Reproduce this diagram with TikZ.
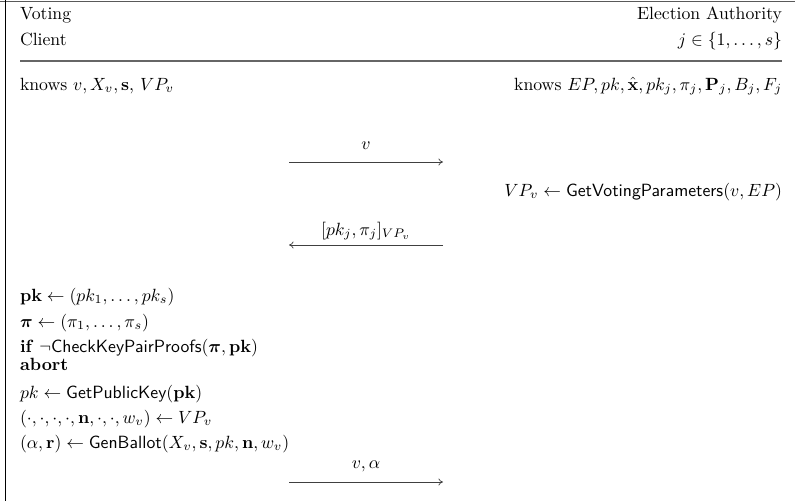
\documentclass[tikz,border=0pt]{standalone}
\usepackage{amsmath,amssymb,bm}
\usetikzlibrary{arrows.meta}
\begin{document}
\begin{tikzpicture}[x=0.565pt,y=-0.565pt,
  lbl/.style={inner sep=0pt, outer sep=0pt},
  lt/.style={lbl, anchor=base west},
  rt/.style={lbl, anchor=base east},
  mt/.style={lbl, anchor=base},
  msg/.style={draw=black!75, line width=0.4pt, -{To[length=2.6pt,width=4pt]}},
  rule/.style={draw=black!60, line width=0.7pt}]
\useasboundingbox (0,0) rectangle (795,501);
% frame
\coordinate (ftl) at (0,1.3);
\coordinate (ftr) at (795,1.3);
\coordinate (flt) at (5.5,0);
\coordinate (flb) at (5.5,501);
\draw[draw=black!65, line width=0.9pt] (ftl) -- (ftr);
\draw[draw=black, line width=1pt] (flt) -- (flb);
% header
\node[lt] (voting) at (20,19) {Voting};
\node[lt] (client) at (20,45) {Client};
\node[rt] (ea) at (782,19) {Election Authority};
\node[rt] (jset) at (782,45) {$j \in \{1,\ldots,s\}$};
\coordinate (hl) at (20,61);
\coordinate (hr) at (782,61);
\draw[rule] (hl) -- (hr);
% knows
\node[lt] (kc) at (20,90) {knows $v, X_v, \mathbf{s}$, $VP_v$};
\node[rt] (ka) at (782,90) {knows $EP, pk, \hat{\mathbf{x}}, pk_j, \pi_j, \mathbf{P}_j, B_j, F_j$};
% message 1
\coordinate (m1l) at (289,162);
\coordinate (m1r) at (443,162);
\draw[msg] (m1l) -- (m1r);
\node[mt] (m1) at (366,149) {$v$};
% authority computation
\node[rt] (gvp) at (782,196) {$VP_v \leftarrow \textsf{GetVotingParameters}(v, EP)$};
% message 2
\coordinate (m2l) at (289,245);
\coordinate (m2r) at (443,245);
\draw[msg] (m2r) -- (m2l);
\node[mt] (m2) at (366,235) {$[pk_j,\pi_j]_{VP_v}$};
% client computations
\node[lt] (c1) at (20,301) {$\mathbf{pk} \leftarrow (pk_1,\ldots,pk_s)$};
\node[lt] (c2) at (20,327) {$\bm{\pi} \leftarrow (\pi_1,\ldots,\pi_s)$};
\node[lt] (c3) at (20,352) {\textbf{if} $\neg\textsf{CheckKeyPairProofs}(\bm{\pi},\mathbf{pk})$};
\node[lt] (c4) at (20,370) {\textbf{abort}};
\node[lt] (c5) at (20,398) {$pk \leftarrow \textsf{GetPublicKey}(\mathbf{pk})$};
\node[lt] (c6) at (20,423) {$(\cdot,\cdot,\cdot,\cdot,\mathbf{n},\cdot,\cdot,w_v) \leftarrow VP_v$};
\node[lt] (c7) at (20,448) {$(\alpha,\mathbf{r}) \leftarrow \textsf{GenBallot}(X_v,\mathbf{s},pk,\mathbf{n},w_v)$};
% message 3
\coordinate (m3l) at (289,482);
\coordinate (m3r) at (443,482);
\draw[msg] (m3l) -- (m3r);
\node[mt] (m3) at (366,468) {$v,\alpha$};
\end{tikzpicture}
\end{document}
